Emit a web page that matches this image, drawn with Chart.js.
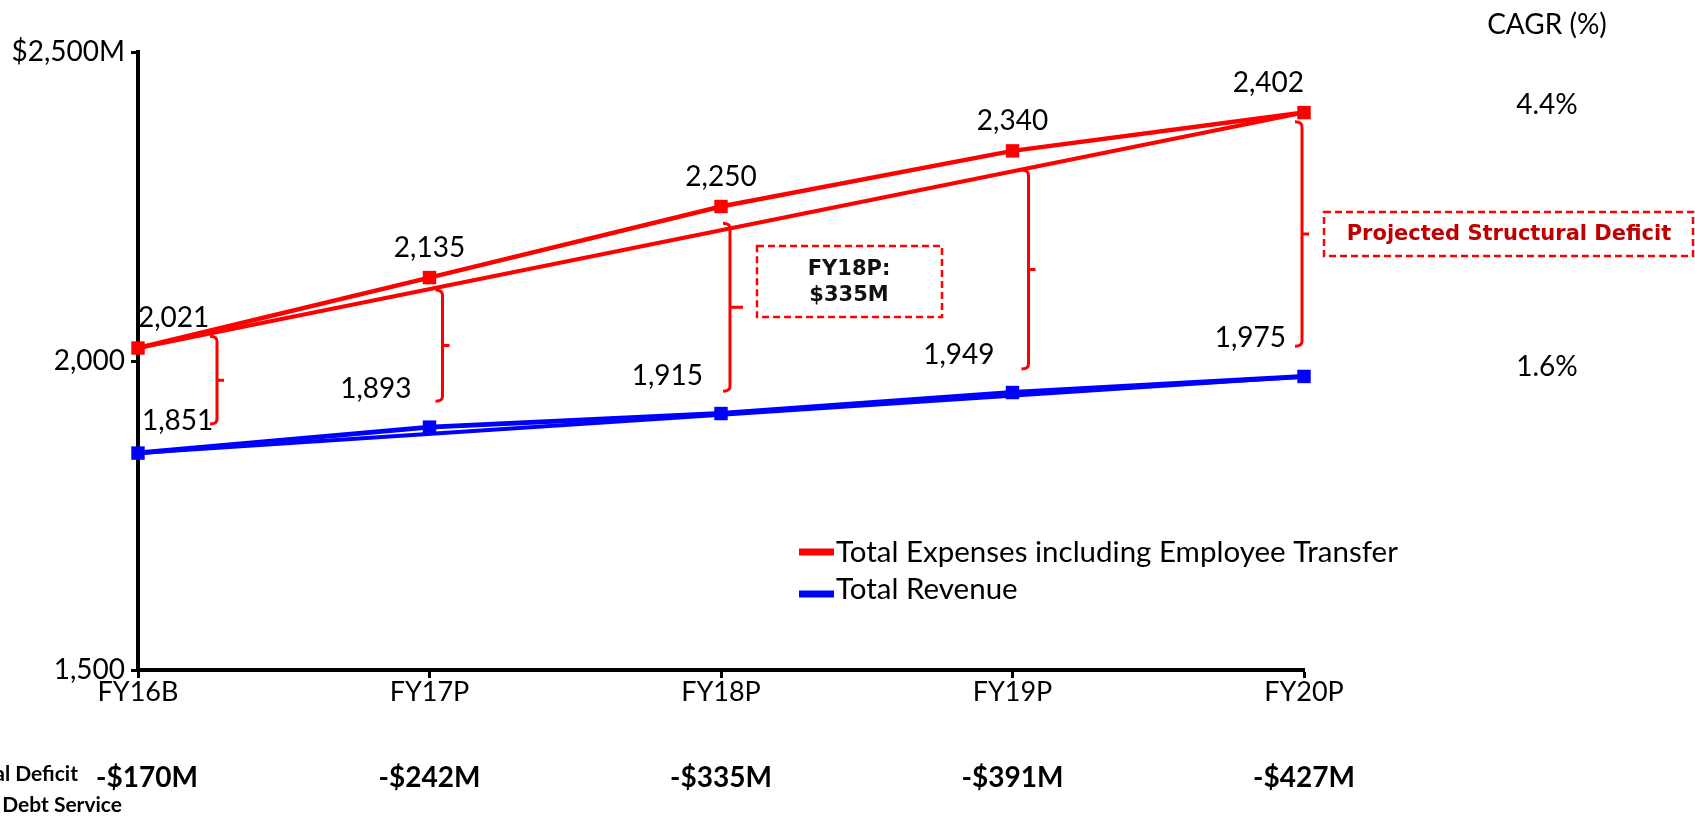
<!DOCTYPE html>
<html>
<head>
<meta charset="utf-8">
<title>Projected Structural Deficit</title>
<script src="https://cdn.jsdelivr.net/npm/chart.js@4.4.1/dist/chart.umd.min.js"></script>
<style>
  html, body { margin: 0; padding: 0; background: #fff; }
  #wrap { width: 1695px; height: 818px; position: relative; }
</style>
</head>
<body>
<div id="wrap"><canvas id="deficitChart"></canvas></div>
<script>
// Fiscal years on the x axis
const years = ['FY16B', 'FY17P', 'FY18P', 'FY19P', 'FY20P'];

// Series values ($M)
const expenses = [2021, 2135, 2250, 2340, 2402];
const revenue = [1851, 1893, 1915, 1949, 1975];

// Structural deficit before debt service ($M)
const deficits = [-170, -242, -335, -391, -427];

// CAGR (%) for expenses and revenue
const cagr = [4.4, 1.6];

// Y axis ticks and their labels
const yTicks = [1500, 2000, 2500];
const yTickLabels = ['1,500', '2,000', '$2,500M'];

// Ends of the gap brackets ($M)
const bracketTop = [2040, 2115, 2223, 2309, 2387];
const bracketBottom = [1898, 1935, 1951, 1987, 2024];

const RED = '#ff0000';
const BLUE = '#0000ff';
const DARKRED = '#c00000';
const FONT = 'Lato, "Open Sans", sans-serif';
const BOXFONT = '"DejaVu Sans", Verdana, sans-serif';

// straight CAGR line: only first and last point
function endpoints(arr) {
    return arr.map((v, i) => (i === 0 || i === arr.length - 1) ? v : null);
}

function fmt(v) {
    return v.toLocaleString('en-US');
}

function fmtDeficit(v) {
    return (v < 0 ? '-' : '') + '$' + Math.abs(v) + 'M';
}

// Labels, brackets, boxes, CAGR column, deficit row and legend
const annotations = {
    id: 'annotations',
    afterDatasetsDraw(chart) {
        const ctx = chart.ctx;
        const xs = chart.scales.x;
        const ys = chart.scales.y;
        const last = years.length - 1;
        ctx.save();

        // value labels
        ctx.fillStyle = '#000';
        ctx.font = '28px ' + FONT;
        ctx.textBaseline = 'middle';
        expenses.forEach((v, i) => {
            const x = xs.getPixelForValue(i);
            const y = ys.getPixelForValue(v) - 30;
            ctx.textAlign = i === 0 ? 'left' : (i === last ? 'right' : 'center');
            ctx.fillText(fmt(v), x, y);
        });
        revenue.forEach((v, i) => {
            const x = xs.getPixelForValue(i);
            if (i === 0) {
                ctx.textAlign = 'left';
                ctx.fillText(fmt(v), x + 4, ys.getPixelForValue(v) - 32);
            } else {
                ctx.textAlign = 'right';
                ctx.fillText(fmt(v), x - 18, ys.getPixelForValue(v) - 38);
            }
        });

        // gap brackets
        const nudge = [79, 13, 9, 16, -2];
        ctx.strokeStyle = RED;
        ctx.lineWidth = 3;
        bracketTop.forEach((top, i) => {
            const x = xs.getPixelForValue(i) + nudge[i];
            const yT = ys.getPixelForValue(top);
            const yB = ys.getPixelForValue(bracketBottom[i]);
            const yM = (yT + yB) / 2;
            const tick = i === 2 ? 13 : 7;
            ctx.beginPath();
            ctx.moveTo(x - 7, yT);
            ctx.quadraticCurveTo(x, yT, x, yT + 5);
            ctx.lineTo(x, yB - 5);
            ctx.quadraticCurveTo(x, yB, x - 7, yB);
            ctx.moveTo(x, yM);
            ctx.lineTo(x + tick, yM);
            ctx.stroke();
        });

        // dashed callout boxes
        ctx.lineWidth = 2.5;
        ctx.setLineDash([7, 4]);
        const bx = xs.getPixelForValue(2) + 36;
        const byT = ys.getPixelForValue(2186);
        const byB = ys.getPixelForValue(2071);
        ctx.strokeRect(bx, byT, 185, byB - byT);

        const yMid20 = (ys.getPixelForValue(bracketTop[last]) + ys.getPixelForValue(bracketBottom[last])) / 2;
        const sx = xs.getPixelForValue(last) + 20;
        ctx.strokeRect(sx, yMid20 - 22, 369, 44);
        ctx.setLineDash([]);

        ctx.textAlign = 'center';
        ctx.fillStyle = '#111';
        ctx.font = 'bold 21px ' + BOXFONT;
        ctx.fillText(years[2] + ':', bx + 92, byT + 23);
        ctx.fillText(fmtDeficit(-deficits[2]), bx + 92, byT + 49);

        ctx.fillStyle = DARKRED;
        ctx.font = 'bold 21px ' + BOXFONT;
        ctx.fillText('Projected Structural Deficit', sx + 185, yMid20 + 1);

        // CAGR column
        const cx = 1547;
        ctx.fillStyle = '#000';
        ctx.font = '28px ' + FONT;
        ctx.fillText('CAGR (%)', cx, 25);
        ctx.fillText(cagr[0].toFixed(1) + '%', cx, ys.getPixelForValue(expenses[last]) - 8);
        ctx.fillText(cagr[1].toFixed(1) + '%', cx, ys.getPixelForValue(revenue[last]) - 9);

        // deficit row under the axis
        ctx.font = 'bold 28px ' + FONT;
        deficits.forEach((d, i) => {
            const x = xs.getPixelForValue(i) + (i === 0 ? 9 : 0);
            ctx.fillText(fmtDeficit(d), x, 778);
        });

        // row caption, cut off at the left edge as in the source slide
        ctx.textAlign = 'right';
        ctx.font = 'bold 21px ' + FONT;
        ctx.fillText('Structural Deficit', 78, 774);
        ctx.fillText('before Debt Service', 122, 805);

        // legend
        const lx = 799;
        [[0, 552, 552], [1, 594, 589]].forEach(([di, ly, ty]) => {
            const ds = chart.data.datasets[di];
            ctx.fillStyle = ds.borderColor;
            ctx.fillRect(lx, ly - 3.5, 35, 7);
            ctx.fillStyle = '#000';
            ctx.textAlign = 'left';
            ctx.font = '29.5px ' + FONT;
            ctx.fillText(ds.label, lx + 37, ty);
        });

        ctx.restore();
    }
};

const ctx = document.getElementById('deficitChart').getContext('2d');
new Chart(ctx, {
    type: 'line',
    data: {
        labels: years,
        datasets: [
            {
                label: 'Total Expenses including Employee Transfer',
                data: expenses,
                borderColor: RED,
                backgroundColor: RED,
                borderWidth: 4.5,
                pointStyle: 'rect',
                pointRadius: 9.5,
                pointHoverRadius: 9.5,
                pointBorderWidth: 0,
                clip: false
            },
            {
                label: 'Total Revenue',
                data: revenue,
                borderColor: BLUE,
                backgroundColor: BLUE,
                borderWidth: 5,
                pointStyle: 'rect',
                pointRadius: 9.5,
                pointHoverRadius: 9.5,
                pointBorderWidth: 0,
                clip: false
            },
            {
                label: 'Expenses CAGR',
                data: endpoints(expenses),
                spanGaps: true,
                borderColor: RED,
                borderWidth: 4,
                pointRadius: 0,
                clip: false
            },
            {
                label: 'Revenue CAGR',
                data: endpoints(revenue),
                spanGaps: true,
                borderColor: BLUE,
                borderWidth: 4,
                pointRadius: 0,
                clip: false
            }
        ]
    },
    options: {
        responsive: true,
        maintainAspectRatio: false,
        animation: false,
        events: [],
        layout: {
            padding: { left: 0, right: 391, top: 52, bottom: 0 }
        },
        plugins: {
            legend: { display: false },
            tooltip: { enabled: false }
        },
        scales: {
            x: {
                offset: false,
                grid: {
                    display: true,
                    drawOnChartArea: false,
                    drawTicks: true,
                    tickLength: 8,
                    tickWidth: 3,
                    tickColor: '#000',
                    color: '#000'
                },
                border: { display: true, color: '#000', width: 4 },
                ticks: {
                    color: '#000',
                    font: { family: FONT, size: 27, lineHeight: 1 },
                    padding: 1,
                    maxRotation: 0,
                    autoSkip: false
                },
                afterFit: s => { s.height = 148; }
            },
            y: {
                min: 1500,
                max: 2500,
                afterBuildTicks: s => { s.ticks = yTicks.map(v => ({ value: v })); },
                grid: {
                    display: true,
                    drawOnChartArea: false,
                    drawTicks: true,
                    tickLength: 7,
                    tickWidth: 3,
                    tickColor: '#000',
                    color: '#000'
                },
                border: { display: true, color: '#000', width: 4 },
                ticks: {
                    color: '#000',
                    font: { family: FONT, size: 28 },
                    padding: 6,
                    callback: v => yTickLabels[yTicks.indexOf(v)]
                },
                afterFit: s => { s.width = 138; }
            }
        }
    },
    plugins: [annotations]
});
</script>
</body>
</html>
